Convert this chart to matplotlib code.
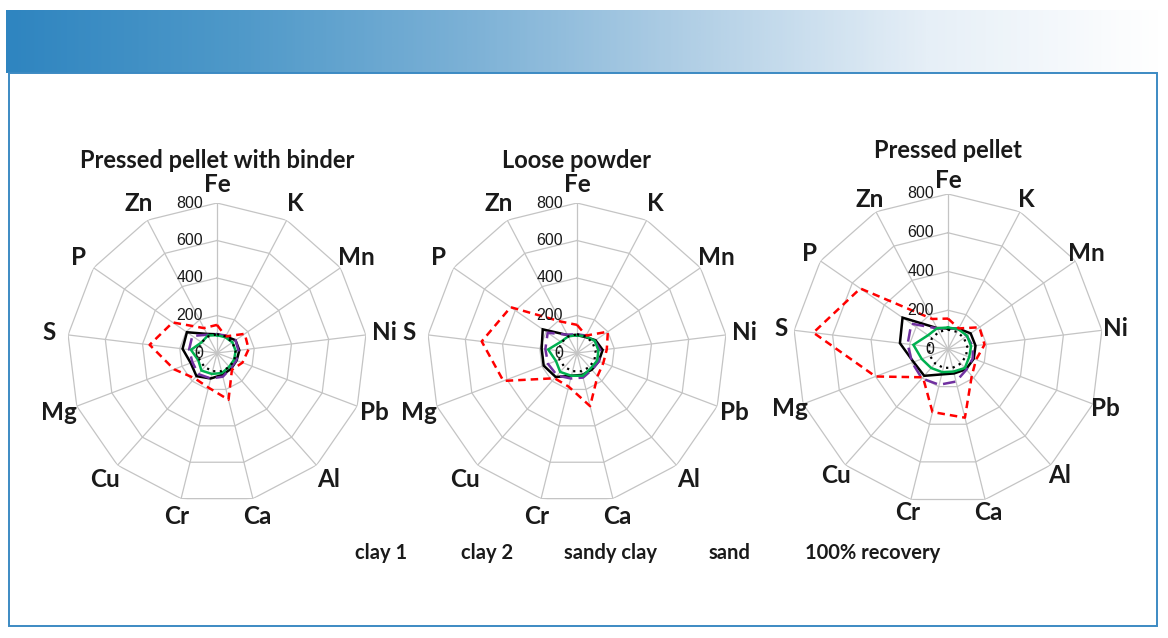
import numpy as np
import matplotlib
matplotlib.use("Agg")
import matplotlib.pyplot as plt
from matplotlib.colors import LinearSegmentedColormap
from matplotlib.patches import Rectangle

# axes of the radar, clockwise from the top
elements = ['Fe', 'K', 'Mn', 'Ni', 'Pb', 'Al', 'Ca', 'Cr', 'Cu', 'Mg', 'S', 'P', 'Zn']
rings = [200, 400, 600, 800]
tick_labels = ['0', '200', '400', '600', '800']

panel_titles = ['Pressed pellet with binder', 'Loose powder', 'Pressed pellet']
series_names = ['clay 1', 'clay 2', 'sandy clay', 'sand', '100% recovery']

# recovery (%) per element
clay1_binder = [100, 100, 120, 120, 112, 113, 120, 140, 165, 150, 185, 195, 115]
clay2_binder = [100, 105, 120, 115, 110, 110, 130, 140, 150, 140, 150, 160, 110]
sandy_binder = [95, 95, 100, 100, 98, 98, 110, 115, 125, 107, 140, 100, 105]
sand_binder = [150, 100, 180, 170, 145, 120, 257, 190, 180, 245, 362, 287, 150]

clay1_loose = [95, 96, 120, 138, 124, 119, 120, 125, 171, 190, 190, 222, 108]
clay2_loose = [100, 105, 115, 125, 125, 120, 135, 140, 160, 165, 170, 190, 110]
sandy_loose = [95, 100, 115, 115, 115, 110, 125, 125, 135, 120, 155, 105, 100]
sand_loose = [150, 105, 200, 160, 150, 165, 292, 185, 180, 420, 512, 430, 190]

clay1_pellet = [106, 118, 142, 143, 142, 140, 130, 135, 185, 190, 250, 285, 122]
clay2_pellet = [105, 118, 118, 128, 137, 143, 173, 190, 203, 198, 210, 230, 120]
sandy_pellet = [111, 115, 120, 120, 117, 131, 120, 123, 131, 145, 180, 125, 121]
sand_pellet = [157, 120, 197, 190, 155, 185, 365, 335, 195, 400, 700, 550, 175]

recovery = [100, 100, 100, 100, 100, 100, 100, 100, 100, 100, 100, 100, 100]

panels = [
    [clay1_binder, clay2_binder, sandy_binder, sand_binder, recovery],
    [clay1_loose, clay2_loose, sandy_loose, sand_loose, recovery],
    [clay1_pellet, clay2_pellet, sandy_pellet, sand_pellet, recovery],
]

styles = [
    dict(color='black', lw=1.8, ls='-'),
    dict(color='#7030a0', lw=1.8, ls=(0, (5, 2.5))),
    dict(color='#00b050', lw=1.8, ls='-'),
    dict(color='#ff0000', lw=1.8, ls=(0, (3, 2))),
    dict(color='black', lw=1.6, ls=(0, (1, 2))),
]

BOLD = 'Lato'
GRID = '#c4c4c4'
INK = '#1a1a1a'

fig = plt.figure(figsize=(11.68, 6.38), dpi=100)

# header band with gradient + framed box
band = fig.add_axes([6 / 1168, 1 - 73 / 638, 1156 / 1168, 63 / 638])
cmap = LinearSegmentedColormap.from_list(
    'band', ['#2f85c0', '#4f99c9', '#7cb1d6', '#b3d0e6', '#e6eff7', '#ffffff'])
band.imshow(np.linspace(0, 1, 400)[None, :], aspect='auto', cmap=cmap,
            extent=[0, 1, 0, 1])
band.axis('off')
fig.patches.append(Rectangle((9 / 1168, 1 - 626 / 638), 1148 / 1168, 553 / 638,
                             transform=fig.transFigure, fill=False,
                             edgecolor='#3c8ac3', lw=1.4))

theta = np.linspace(0, 2 * np.pi, len(elements), endpoint=False)
theta_closed = np.append(theta, theta[0])

# (center x, center y, radius, title y, label radius) - pixels / data units
layout = [(217, 353, 150, 160, 900),
          (577, 353, 150, 160, 900),
          (948, 349, 155, 150, 870)]

for (cx, cy, rad, ty, lab_r), title, data in zip(layout, panel_titles, panels):
    ax = fig.add_axes([(cx - rad) / 1168, (638 - cy - rad) / 638,
                       2 * rad / 1168, 2 * rad / 638], projection='polar')
    ax.set_theta_zero_location('N')
    ax.set_theta_direction(-1)
    ax.set_ylim(0, 800)
    ax.set_xticks([])
    ax.set_yticks([])
    ax.grid(False)
    ax.spines['polar'].set_visible(False)
    ax.patch.set_alpha(0)

    for r in rings:
        ax.plot(theta_closed, [r] * len(theta_closed), color=GRID, lw=0.9, zorder=1)
    for t in theta:
        ax.plot([t, t], [0, 800], color=GRID, lw=0.9, zorder=1)

    for values, st in zip(data, styles):
        v = np.append(values, values[0])
        ax.plot(theta_closed, v, zorder=3, solid_joinstyle='miter',
                dash_capstyle='butt', **st)

    for lab, val in zip(tick_labels, [0] + rings):
        ax.annotate(lab, xy=(0, val), xytext=(-10, 0), textcoords='offset points',
                    ha='right', va='center', fontsize=11.5,
                    family='Liberation Sans', color=INK, zorder=4)

    for t, name in zip(theta, elements):
        ax.text(t, lab_r, name, ha='center', va='center', fontsize=17.5,
                family=BOLD, fontweight='bold', color=INK)

    fig.text(cx / 1168, 1 - ty / 638, title, ha='center', va='center',
             fontsize=17, family=BOLD, fontweight='bold', color=INK)

legend_x = [381, 487, 610, 729, 873]
for x, name in zip(legend_x, series_names):
    fig.text(x / 1168, 1 - 553 / 638, name, ha='center', va='center',
             fontsize=14.5, family=BOLD, fontweight='bold', color=INK)

fig.savefig('out.png', dpi=100)
